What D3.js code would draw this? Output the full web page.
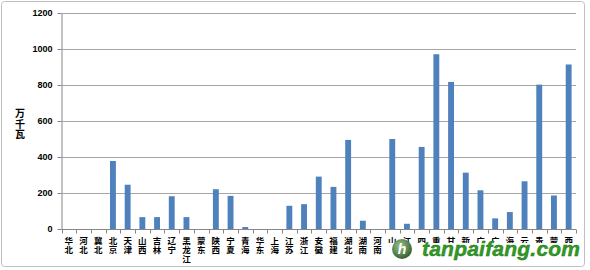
<!DOCTYPE html>
<html>
<head>
<meta charset="utf-8">
<script src="https://cdn.jsdelivr.net/npm/d3@7"></script>
<style>
body { margin: 0; background: #fff; }
svg { display: block; }
</style>
</head>
<body>
<svg width="590" height="270"></svg>
<script>
// categories, left to right
var regions = ["华北", "河北", "冀北", "北京", "天津", "山西", "吉林", "辽宁", "黑龙江",
               "蒙东", "陕西", "宁夏", "青海", "华东", "上海", "江苏", "浙江", "安徽",
               "福建", "湖北", "湖南", "河南", "山东", "江西", "四川", "重庆", "甘肃",
               "新疆", "广东", "广西", "海南", "云南", "贵州", "蒙西", "西藏"];
// 万千瓦
var values = [0, 0, 0, 378, 246, 66, 66, 182, 66,
              0, 221, 184, 11, 0, 0, 129, 138, 291,
              234, 495, 46, 0, 500, 29, 456, 971, 817,
              313, 215, 59, 94, 265, 802, 186, 914];
var yTicks = [0, 200, 400, 600, 800, 1000, 1200];
var yTitle = "万千瓦";

var svg = d3.select("svg");

// outer frame
svg.append("rect")
    .attr("x", 1.5).attr("y", 1.5)
    .attr("width", 583).attr("height", 265)
    .attr("rx", 3)
    .attr("fill", "#fff")
    .attr("stroke", "#bfbfbf");

var x = d3.scaleBand().domain(regions).range([61.5, 576]);
var y = d3.scaleLinear().domain([0, 1200]).range([229, 13]);

// gridlines
svg.append("g").selectAll("line")
    .data(yTicks.filter(d => d > 0))
    .enter().append("line")
    .attr("x1", 62).attr("x2", 576)
    .attr("y1", d => Math.round(y(d)) + 0.5)
    .attr("y2", d => Math.round(y(d)) + 0.5)
    .attr("stroke", "#a6a6a6");

// y axis
var yAxis = svg.append("g")
    .attr("transform", "translate(61.5,0)")
    .call(d3.axisLeft(y).tickValues(yTicks).tickFormat(d3.format("d"))
          .tickSize(4).tickPadding(5).tickSizeOuter(0));
yAxis.select(".domain").attr("stroke", "#868686");
yAxis.selectAll(".tick line").attr("stroke", "#868686");
yAxis.selectAll(".tick text")
    .attr("fill", "#000")
    .style("font", "bold 9px 'Liberation Sans', Arial, sans-serif");

// y title, stacked upright
svg.append("text")
    .attr("x", 20).attr("y", 117)
    .attr("text-anchor", "middle")
    .style("font", "bold 10px 'Noto Sans CJK SC', sans-serif")
    .selectAll("tspan")
    .data(yTitle.split(""))
    .enter().append("tspan")
    .attr("x", 20)
    .attr("dy", (d, i) => i == 0 ? 0 : 10.5)
    .text(d => d);

// bars
var bw = x.bandwidth() * 0.4;
svg.append("g").selectAll("rect")
    .data(values)
    .enter().append("rect")
    .attr("x", (d, i) => x(regions[i]) + (x.bandwidth() - bw) / 2)
    .attr("y", d => y(d))
    .attr("width", bw)
    .attr("height", d => y(0) - y(d))
    .attr("fill", "#4f81bd");

// x axis line and ticks
var xa = svg.append("g");
xa.append("line")
    .attr("x1", 61.5).attr("x2", 576)
    .attr("y1", 229.5).attr("y2", 229.5)
    .attr("stroke", "#868686");
xa.selectAll(".xt")
    .data(regions.map(d => x(d)).concat([x.range()[1]]))
    .enter().append("line")
    .attr("class", "xt")
    .attr("x1", d => Math.round(d) + 0.5).attr("x2", d => Math.round(d) + 0.5)
    .attr("y1", 229.5).attr("y2", 233.5)
    .attr("stroke", "#868686");

// x labels, characters stacked vertically
xa.selectAll(".xl")
    .data(regions)
    .enter().append("text")
    .attr("class", "xl")
    .attr("text-anchor", "middle")
    .attr("y", 244)
    .style("font", "bold 8.5px 'Noto Sans CJK SC', sans-serif")
    .each(function(d) {
        var cx = x(d) + x.bandwidth() / 2;
        d3.select(this).selectAll("tspan")
            .data(d.split(""))
            .enter().append("tspan")
            .attr("x", cx)
            .attr("dy", (c, i) => i == 0 ? 0 : 8.8)
            .text(c => c);
    });

// watermark (sits over the lower half of the labels, as in the source image)
svg.append("rect")
    .attr("x", 386).attr("y", 243)
    .attr("width", 196).attr("height", 19)
    .attr("fill", "#fff");
var defs = svg.append("defs");
var grad = defs.append("radialGradient").attr("id", "lg").attr("cx", "40%").attr("cy", "35%").attr("r", "70%");
grad.append("stop").attr("offset", "0%").attr("stop-color", "#9cc48a");
grad.append("stop").attr("offset", "100%").attr("stop-color", "#2e5a2a");
svg.append("circle")
    .attr("cx", 402).attr("cy", 249).attr("r", 10)
    .attr("fill", "url(#lg)");
svg.append("text")
    .attr("x", 402).attr("y", 254)
    .attr("text-anchor", "middle")
    .attr("fill", "#fff")
    .style("font", "italic bold 14px 'Liberation Sans', Arial, sans-serif")
    .text("h");
svg.append("text")
    .attr("x", 422).attr("y", 256)
    .attr("fill", "#2f9b22")
    .attr("stroke", "#1f6e17")
    .attr("stroke-width", 0.4)
    .attr("textLength", 158)
    .style("font", "italic bold 21px 'Liberation Sans', Arial, sans-serif")
    .text("tanpaifang.com");
</script>
</body>
</html>
